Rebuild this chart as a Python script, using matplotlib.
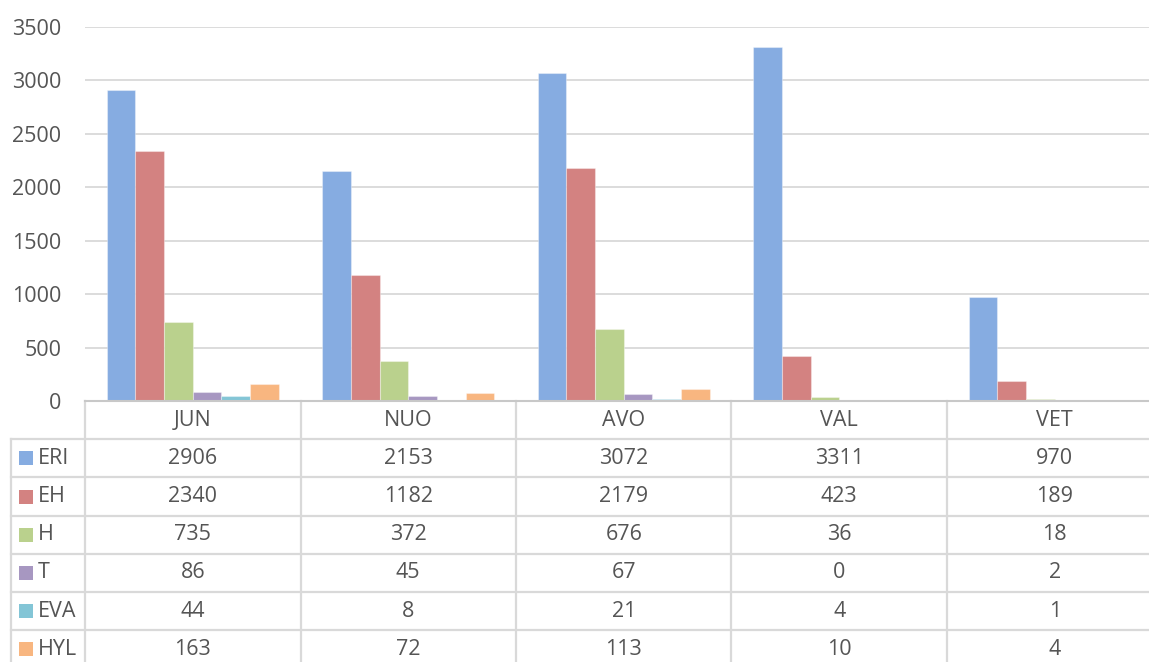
import numpy as np
import matplotlib
matplotlib.use("Agg")
import matplotlib.pyplot as plt
from matplotlib.lines import Line2D
from matplotlib.patches import Rectangle

# Daten (aus der Tabelle unter dem Diagramm)
months = ["JUN", "NUO", "AVO", "VAL", "VET"]
series_names = ["ERI", "EH", "H", "T", "EVA", "HYL"]
eri = [2906, 2153, 3072, 3311, 970]
eh = [2340, 1182, 2179, 423, 189]
h = [735, 372, 676, 36, 18]
t = [86, 45, 67, 0, 2]
eva = [44, 8, 21, 4, 1]
hyl = [163, 72, 113, 10, 4]
series = [eri, eh, h, t, eva, hyl]
colors = ["#86ACE1", "#D38281", "#BAD18D", "#A797C1", "#83C5D6", "#F8B680"]

plt.rcParams['font.family'] = ['Open Sans', 'DejaVu Sans']
txt_col = "#555555"
grid_col = "#D9D9D9"
fs = 15.5

W, H = 1149, 662
fig = plt.figure(figsize=(W / 100, H / 100), dpi=100)
# Plotbereich: x 85..1162 px, y 27..401 px
x0, x1, ytop, ybot = 85, 1162.5, 27, 401
ax = fig.add_axes([x0 / W, 1 - ybot / H, (x1 - x0) / W, (ybot - ytop) / H])

n = len(series)
x = np.arange(len(months))
w = 1 / (n + 1.5)   # Abstandsbreite 150 %
for j, (vals, c) in enumerate(zip(series, colors)):
    ax.bar(x - 0.5 + 0.75 * w + (j + 0.5) * w, vals, width=w, color=c,
           edgecolor=(1, 1, 1, 0.35), linewidth=0.8, zorder=3)

ax.set_xlim(-0.5, len(months) - 0.5)
ax.set_ylim(0, 3500)
ax.set_yticks(np.arange(0, 3501, 500))
ax.set_xticks([])
ax.tick_params(axis="y", length=0, pad=17, labelsize=fs, labelcolor=txt_col)
ax.grid(axis="y", color=grid_col, linewidth=1.3, zorder=0)
for s in ["top", "right", "left"]:
    ax.spines[s].set_visible(False)
ax.spines["bottom"].set_color("#C8C8C8")
ax.spines["bottom"].set_linewidth(1.5)
ax.spines["bottom"].set_zorder(4)

# Datentabelle unter der Achse
ph = ybot - ytop
row_h = 38.2 / ph
leg_left = (11 - x0) / (x1 - x0)
nrows = n + 1
bottom = -(nrows + 0.5) * row_h

def hline(y, xa, xb):
    ax.add_line(Line2D([xa, xb], [y, y], transform=ax.transAxes, color=grid_col,
                       linewidth=1.6, clip_on=False))

def vline(xa, ya, yb):
    ax.add_line(Line2D([xa, xa], [ya, yb], transform=ax.transAxes, color=grid_col,
                       linewidth=1.6, clip_on=False))

for r in range(1, nrows + 1):
    hline(-r * row_h, leg_left, 1)
for i in range(len(months) + 1):
    vline(i / len(months), 0, bottom)
vline(leg_left, -row_h, bottom)

for i, m in enumerate(months):
    ax.text((i + 0.5) / len(months), -0.5 * row_h, m, transform=ax.transAxes,
            ha="center", va="center", fontsize=fs, color=txt_col)
for r, (name, vals, c) in enumerate(zip(series_names, series, colors)):
    yc = -(r + 1.5) * row_h
    sq = 14
    ax.add_patch(Rectangle(((19.3 - x0) / (x1 - x0), yc - sq / 2 / ph), sq / (x1 - x0), sq / ph,
                           transform=ax.transAxes, facecolor=c, edgecolor="none", clip_on=False))
    ax.text((38 - x0) / (x1 - x0), yc, name, transform=ax.transAxes,
            ha="left", va="center", fontsize=fs, color=txt_col)
    for i, v in enumerate(vals):
        ax.text((i + 0.5) / len(months), yc, str(v), transform=ax.transAxes,
                ha="center", va="center", fontsize=fs, color=txt_col)

fig.savefig("out.png", dpi=100, facecolor="white")
